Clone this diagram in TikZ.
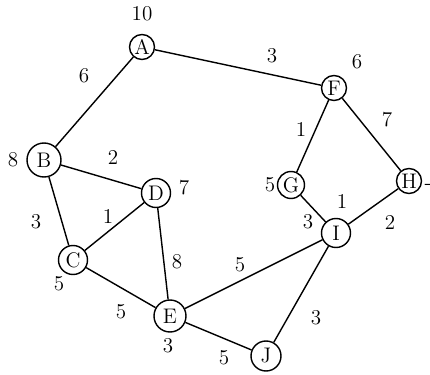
\documentclass[tikz,border=0pt]{standalone}
\usepackage{tikz}
\usetikzlibrary{positioning}

\begin{document}
\begin{tikzpicture}[x=0.02cm, y=-0.02cm,
    vertex/.style={draw, circle, line width=0.8pt, minimum size=0.5cm,
                   inner sep=0pt, font=\large},
    edge/.style={line width=0.8pt},
    wt/.style={font=\large}]
    \useasboundingbox (0,0) rectangle (430,375);
    % vertices
    \node[vertex] (A) at (142,47) {A};
    \node[vertex] (F) at (334,88) {F};
    \node[vertex, minimum size=0.68cm] (B) at (44,160) {B};
    \node[vertex, minimum size=0.58cm] (D) at (156,193) {D};
    \node[vertex, minimum size=0.54cm] (G) at (291,185) {G};
    \node[vertex] (H) at (409,181) {H};
    \node[vertex, minimum size=0.58cm] (I) at (336,233) {I};
    \node[vertex, minimum size=0.58cm] (C) at (73,260) {C};
    \node[vertex, minimum size=0.64cm] (E) at (170,316) {E};
    \node[vertex, minimum size=0.6cm] (J) at (266,356) {J};
    % vertex values
    \node[wt] (vA) at (142,14) {10};
    \node[wt] (vF) at (357,62) {6};
    \node[wt] (vB) at (13,160) {8};
    \node[wt] (vD) at (184,188) {7};
    \node[wt] (vG) at (270,185) {5};
    \node[wt] (vH) at (428,187) {-};
    \node[wt] (vI) at (342,201) {1};
    \node[wt] (vC) at (59,284) {5};
    \node[wt] (vE) at (168,346) {3};
    % edges
    \draw[edge] (A) -- (B);
    \draw[edge] (A) -- (F);
    \draw[edge] (B) -- (D);
    \draw[edge] (B) -- (C);
    \draw[edge] (C) -- (D);
    \draw[edge] (C) -- (E);
    \draw[edge] (D) -- (E);
    \draw[edge] (E) -- (I);
    \draw[edge] (E) -- (J);
    \draw[edge] (J) -- (I);
    \draw[edge] (G) -- (I);
    \draw[edge] (I) -- (H);
    \draw[edge] (F) -- (G);
    \draw[edge] (F) -- (H);
    % weights
    \node[wt] (wAB) at (84,76) {6};
    \node[wt] (wAF) at (272,56) {3};
    \node[wt] (wBD) at (113,157) {2};
    \node[wt] (wBC) at (36,222) {3};
    \node[wt] (wCD) at (108,216) {1};
    \node[wt] (wCE) at (121,312) {5};
    \node[wt] (wDE) at (177,262) {8};
    \node[wt] (wEI) at (240,265) {5};
    \node[wt] (wEJ) at (224,358) {5};
    \node[wt] (wIJ) at (316,318) {3};
    \node[wt] (wGI) at (308,222) {3};
    \node[wt] (wIH) at (390,222) {2};
    \node[wt] (wFG) at (301,129) {1};
    \node[wt] (wFH) at (387,120) {7};
\end{tikzpicture}
\end{document}
